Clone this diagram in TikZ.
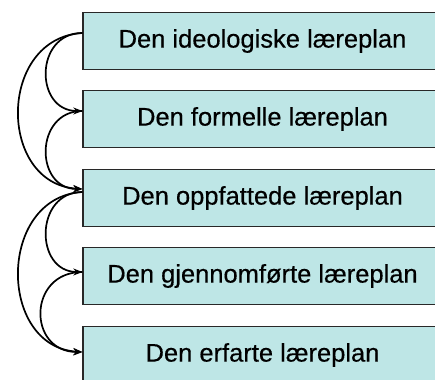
\documentclass[tikz,border=0pt]{standalone}
\usepackage{fontspec}
\setmainfont{Liberation Sans}[FakeBold=0.4]
\usetikzlibrary{arrows.meta,calc}
\definecolor{boxfill}{RGB}{190,230,230}
\definecolor{boxline}{RGB}{40,40,40}
\begin{document}
\begin{tikzpicture}[x=1pt,y=-1pt,
  planbox/.style={draw=boxline,line width=1.3pt,fill=boxfill,minimum width=359pt,minimum height=57pt,inner sep=0pt,font=\fontsize{25.5}{30}\selectfont},
  arc/.style={line width=1.7pt,-{Stealth[length=9pt,width=7pt]}}]
\useasboundingbox (0,0) rectangle (435,379);
\clip (0,0) rectangle (435,379);
\fill[white] (0,0) rectangle (435,379);
\node[planbox] (b1) at (262.5,41) {Den ideologiske læreplan};
\node[planbox] (b2) at (262.5,119) {Den formelle læreplan};
\node[planbox] (b3) at (262.5,198) {Den oppfattede læreplan};
\node[planbox] (b4) at (262.5,276) {Den gjennomførte læreplan};
\node[planbox] (b5) at (262.5,355) {Den erfarte læreplan};
\coordinate (s1) at ($(b1.west)+(0,-8)$);
\coordinate (s2) at ($(b2.west)+(0,-8)$);
\coordinate (s3) at ($(b3.west)+(0,-6)$);
\coordinate (e3) at ($(b3.west)+(0,-9)$);
\coordinate (s4) at ($(b4.west)+(0,-4)$);
\coordinate (e5) at ($(b5.west)+(0,-3)$);
\draw[arc] (s1) .. controls +(-48,0) and +(-48,0) .. (s2);
\draw[arc] (s2) .. controls +(-48,0) and +(-48,0) .. (e3);
\draw[arc] (s1) .. controls +(-85,5) and +(-85,-5) .. (e3);
\draw[arc] (s3) .. controls +(-48,0) and +(-48,0) .. (s4);
\draw[arc] (s4) .. controls +(-55,0) and +(-55,0) .. (e5);
\draw[arc] (s3) .. controls +(-85,5) and +(-85,-5) .. (e5);
\end{tikzpicture}
\end{document}
